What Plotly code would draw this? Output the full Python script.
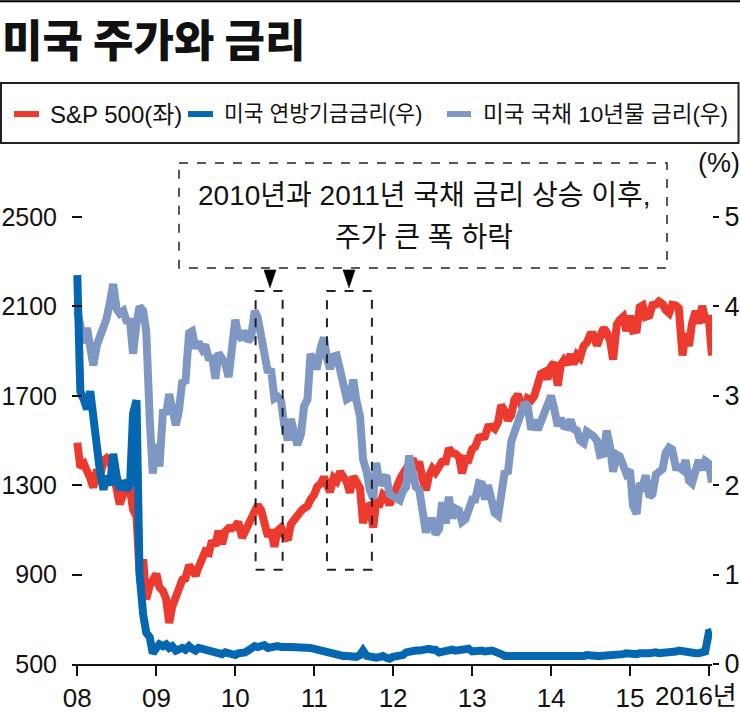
import pandas as pd
import plotly.graph_objects as go

# ---------------- data (semi-monthly readings, 1st and 15th of each month) ----------------
dates = pd.date_range("2008-01-01", "2016-01-15", freq="SMS")

sp500 = [
    1490, 1380, 1395, 1350, 1330, 1290, 1370, 1335, 1410, 1420, 1400, 1360, 1285, 1215, 1260, 1298, 1280, 1192, 1160, 907, 968, 790, 850, 870,
    903, 843, 826, 790, 683, 756, 811, 852, 877, 882, 942, 923, 896, 932, 987, 1004, 998, 1052, 1029, 1096, 1036, 1093, 1108, 1107,
    1115, 1136, 1065, 1094, 1115, 1150, 1178, 1211, 1187, 1120, 1070, 1100, 1025, 1096, 1110, 1075, 1055, 1125, 1146, 1176, 1184, 1197, 1206, 1236,
    1258, 1293, 1307, 1336, 1306, 1270, 1332, 1319, 1361, 1338, 1314, 1266, 1339, 1316, 1287, 1130, 1204, 1209, 1110, 1224, 1218, 1257, 1244, 1212,
    1258, 1289, 1324, 1350, 1374, 1402, 1419, 1370, 1405, 1331, 1278, 1342, 1374, 1357, 1379, 1405, 1406, 1465, 1444, 1441, 1427, 1353, 1416, 1413,
    1462, 1472, 1513, 1520, 1518, 1560, 1562, 1552, 1582, 1658, 1631, 1590, 1614, 1682, 1706, 1661, 1633, 1688, 1680, 1698, 1762, 1798, 1806, 1775,
    1831, 1848, 1745, 1838, 1859, 1841, 1885, 1842, 1883, 1870, 1924, 1937, 1973, 1973, 1925, 1955, 2003, 1984, 1946, 1862, 2018, 2039, 2053, 1990,
    2058, 1992, 1995, 2096, 2104, 2053, 2059, 2106, 2108, 2122, 2111, 2084, 2070, 2107, 2104, 2092, 1880, 1978, 1923, 2023, 2079, 2023, 2102, 2043,
    2044, 1880,
]

ust10y = [
    3.95, 3.72, 3.59, 3.76, 3.53, 3.34, 3.57, 3.66, 3.77, 3.86, 4.06, 4.25, 3.97, 3.92, 3.95, 3.84, 3.83, 3.47, 3.81, 4.00, 3.95, 3.72, 2.75, 2.13,
    2.46, 2.21, 2.85, 2.79, 3.02, 2.89, 2.67, 2.83, 3.17, 3.14, 3.70, 3.72, 3.53, 3.60, 3.52, 3.57, 3.40, 3.45, 3.19, 3.48, 3.41, 3.36, 3.21, 3.55,
    3.85, 3.68, 3.63, 3.73, 3.61, 3.65, 3.95, 3.87, 3.69, 3.46, 3.26, 3.30, 2.97, 2.99, 2.94, 2.68, 2.50, 2.74, 2.53, 2.45, 2.57, 2.88, 2.96, 3.47,
    3.33, 3.33, 3.55, 3.65, 3.42, 3.30, 3.44, 3.45, 3.29, 3.17, 2.96, 2.98, 3.18, 2.95, 2.77, 2.29, 2.15, 1.95, 1.85, 2.25, 2.00, 2.06, 2.11, 1.90,
    1.88, 1.87, 1.83, 1.93, 1.98, 2.33, 2.18, 1.98, 1.95, 1.76, 1.47, 1.60, 1.60, 1.45, 1.51, 1.81, 1.57, 1.87, 1.63, 1.74, 1.72, 1.59, 1.62, 1.72,
    1.84, 1.84, 2.02, 2.01, 1.84, 2.00, 1.85, 1.69, 1.66, 1.94, 2.16, 2.13, 2.49, 2.59, 2.71, 2.77, 2.92, 2.88, 2.62, 2.73, 2.62, 2.71, 2.80, 2.88,
    3.00, 2.86, 2.66, 2.75, 2.66, 2.65, 2.73, 2.63, 2.61, 2.50, 2.47, 2.60, 2.58, 2.55, 2.50, 2.34, 2.35, 2.61, 2.43, 2.15, 2.34, 2.32, 2.22, 2.13,
    2.17, 1.77, 1.68, 2.02, 1.99, 2.11, 1.87, 1.90, 2.12, 2.14, 2.18, 2.36, 2.42, 2.40, 2.20, 2.20, 2.17, 2.28, 2.05, 2.02, 2.14, 2.28, 2.17, 2.27,
    2.24, 2.03,
]

fedfunds = [
    4.35, 3.05, 2.95, 2.85, 3.05, 2.75, 2.35, 2.15, 1.95, 2.10, 2.00, 2.35, 2.10, 1.95, 2.05, 1.95, 2.00, 2.80, 2.95, 1.00, 0.55, 0.35, 0.30, 0.12,
    0.18, 0.22, 0.20, 0.22, 0.18, 0.20, 0.15, 0.17, 0.18, 0.16, 0.20, 0.17, 0.15, 0.18, 0.17, 0.15, 0.14, 0.15, 0.12, 0.13, 0.11, 0.13, 0.12, 0.10,
    0.10, 0.12, 0.12, 0.13, 0.15, 0.17, 0.20, 0.19, 0.20, 0.21, 0.18, 0.19, 0.18, 0.20, 0.19, 0.20, 0.19, 0.19, 0.19, 0.19, 0.19, 0.20, 0.18, 0.18,
    0.17, 0.16, 0.16, 0.14, 0.14, 0.13, 0.10, 0.11, 0.10, 0.09, 0.09, 0.08, 0.07, 0.08, 0.10, 0.15, 0.09, 0.08, 0.07, 0.07, 0.08, 0.09, 0.07, 0.06,
    0.08, 0.08, 0.10, 0.10, 0.13, 0.14, 0.14, 0.15, 0.15, 0.16, 0.16, 0.17, 0.16, 0.16, 0.13, 0.14, 0.14, 0.15, 0.16, 0.15, 0.16, 0.17, 0.16, 0.17,
    0.14, 0.15, 0.15, 0.15, 0.14, 0.15, 0.15, 0.14, 0.11, 0.11, 0.09, 0.09, 0.09, 0.09, 0.08, 0.09, 0.08, 0.08, 0.09, 0.09, 0.08, 0.08, 0.09, 0.09,
    0.07, 0.07, 0.07, 0.07, 0.08, 0.07, 0.08, 0.09, 0.09, 0.09, 0.09, 0.10, 0.09, 0.09, 0.09, 0.09, 0.09, 0.09, 0.09, 0.09, 0.09, 0.09, 0.11, 0.12,
    0.11, 0.12, 0.11, 0.12, 0.11, 0.12, 0.12, 0.13, 0.13, 0.12, 0.12, 0.13, 0.13, 0.14, 0.14, 0.15, 0.14, 0.14, 0.13, 0.13, 0.12, 0.12, 0.13, 0.14,
    0.35, 0.36,
]

year_ticks = ["2008-01-01", "2009-01-01", "2010-01-01", "2011-01-01", "2012-01-01",
              "2013-01-01", "2014-01-01", "2015-01-01", "2016-01-01"]
year_labels = ["08", "09", "10", "11", "12", "13", "14", "15", ""]
last_year_label = "2016년"
left_ticks = [500, 900, 1300, 1700, 2100, 2500]
right_ticks = [0, 1, 2, 3, 4, 5]

series_names = ["S&P 500(좌)", "미국 연방기금금리(우)", "미국 국채 10년물 금리(우)"]
highlight_periods = [("2010-04-05", "2010-08-08"), ("2011-03-01", "2011-09-25")]

assert len(dates) == len(sp500) == len(ust10y) == len(fedfunds)

# ---------------- styling ----------------
RED = "#EC3A2E"
DBLUE = "#0567B1"
LBLUE = "#7F98C3"
LAT = "Liberation Sans, Arial, Noto Sans CJK KR, sans-serif"
KR = "Liberation Sans, Noto Sans CJK KR, sans-serif"

W, H = 740, 715
L, R, T, B = 72, 28, 150, 50.5
PW, PH = W - L - R, H - T - B
def px(x):
    return (x - L) / PW
def py(y):
    return (H - B - y) / PH

# left axis: 400 points = 89.5 px ; right axis: 1 % = 89.5 px
unit = 89.5
left_range = [500, 500 + PH / unit * 400]
right_range = [0, PH / unit]

fig = go.Figure()
fig.add_trace(go.Scatter(x=dates, y=sp500, name=series_names[0], mode="lines",
                         line=dict(color=RED, width=8), yaxis="y", showlegend=False))
fig.add_trace(go.Scatter(x=dates, y=ust10y, name=series_names[2], mode="lines",
                         line=dict(color=LBLUE, width=8), yaxis="y2", showlegend=False))
fig.add_trace(go.Scatter(x=dates, y=fedfunds, name=series_names[1], mode="lines",
                         line=dict(color=DBLUE, width=8), yaxis="y2", showlegend=False))

shapes = []
annotations = []

# top rule
shapes.append(dict(type="line", xref="paper", yref="paper", x0=px(0), x1=px(740), y0=py(1), y1=py(1),
                   line=dict(color="black", width=2)))
# legend box
shapes.append(dict(type="rect", xref="paper", yref="paper", x0=px(1), x1=px(738.5), y0=py(83), y1=py(143),
                   line=dict(color="#222", width=2)))
legend_items = [
    (RED, 14, 39, 48, series_names[0], 24),
    (DBLUE, 188, 213, 222, series_names[1], 21.5),
    (LBLUE, 447, 471, 481, series_names[2], 22.5),
]
for col, lx0, lx1, tx, txt, fs in legend_items:
    shapes.append(dict(type="line", xref="paper", yref="paper", x0=px(lx0), x1=px(lx1), y0=py(114), y1=py(114),
                       line=dict(color=col, width=6)))
    annotations.append(dict(xref="paper", yref="paper", x=px(tx), y=py(114), xanchor="left", yanchor="middle",
                            text=txt, showarrow=False, font=dict(family=KR, size=fs, color="#111")))

# callout box
shapes.append(dict(type="rect", xref="paper", yref="paper", x0=px(179), x1=px(667), y0=py(163), y1=py(268),
                   line=dict(color="#222", width=1.5, dash="dash")))
annotations.append(dict(xref="paper", yref="paper", x=px(424), y=py(196), xanchor="center", yanchor="middle",
                        text="2010년과 2011년 국채 금리 상승 이후,", showarrow=False,
                        font=dict(family=KR, size=28, color="#111")))
annotations.append(dict(xref="paper", yref="paper", x=px(424), y=py(238), xanchor="center", yanchor="middle",
                        text="주가 큰 폭 하락", showarrow=False,
                        font=dict(family=KR, size=28, color="#111")))
# arrows (triangles)
for tip in (270, 349):
    path = "M {} {} L {} {} L {} {} Z".format(px(tip - 6), py(270), px(tip + 6), py(270), px(tip), py(288))
    shapes.append(dict(type="path", xref="paper", yref="paper", path=path,
                       fillcolor="black", line=dict(color="black", width=0.5)))
# highlighted periods (data coordinates)
for d0, d1 in highlight_periods:
    shapes.append(dict(type="rect", xref="x", yref="y", x0=d0, x1=d1, y0=922, y1=2169,
                       line=dict(color="#222", width=2, dash="dash")))

# unit label
annotations.append(dict(xref="paper", yref="paper", x=px(719), y=py(163), xanchor="center", yanchor="middle",
                        text="(%)", showarrow=False, font=dict(family=LAT, size=27, color="#111")))
# last year label (right-aligned to the page edge, like the reference)
annotations.append(dict(xref="paper", yref="paper", x=px(739), y=py(697), xanchor="right", yanchor="middle",
                        text=last_year_label, showarrow=False, font=dict(family=KR, size=26, color="#111")))

fig.update_layout(
    width=W, height=H,
    margin=dict(l=L, r=R, t=T, b=B, pad=0),
    paper_bgcolor="white", plot_bgcolor="white",
    title=dict(text="미국 주가와 금리", xref="container", yref="container",
               x=2 / W, xanchor="left", y=1 - 42 / H, yanchor="middle",
               font=dict(family="Noto Sans CJK KR, sans-serif", size=44, weight=900, color="#111")),
    showlegend=False,
    xaxis=dict(type="date", range=["2007-12-07 12:00", "2016-01-15 12:00"],
               tickvals=year_ticks, ticktext=year_labels,
               ticks="outside", ticklen=10, tickwidth=1.5, tickcolor="#111",
               showline=True, linecolor="#111", linewidth=1.5,
               showgrid=False, zeroline=False, automargin=False,
               ticklabeloverflow="allow",
               tickfont=dict(family=LAT, size=26, color="#111")),
    yaxis=dict(range=left_range, tickvals=left_ticks, ticks="inside", ticklen=10, tickwidth=1.5,
               tickcolor="#111", showline=False, showgrid=False, zeroline=False, automargin=False,
               ticklabelstandoff=14, ticklabeloverflow="allow",
               tickfont=dict(family=LAT, size=25, color="#111")),
    yaxis2=dict(range=right_range, overlaying="y", side="right", tickvals=right_ticks,
                ticks="outside", ticklen=6, tickwidth=1.5, tickcolor="#111",
                showline=False, showgrid=False, zeroline=False, automargin=False,
                ticklabeloverflow="allow",
                tickfont=dict(family=LAT, size=27, color="#111")),
    shapes=shapes,
    annotations=annotations,
)

fig.write_html("out.html", config={"displayModeBar": False})
